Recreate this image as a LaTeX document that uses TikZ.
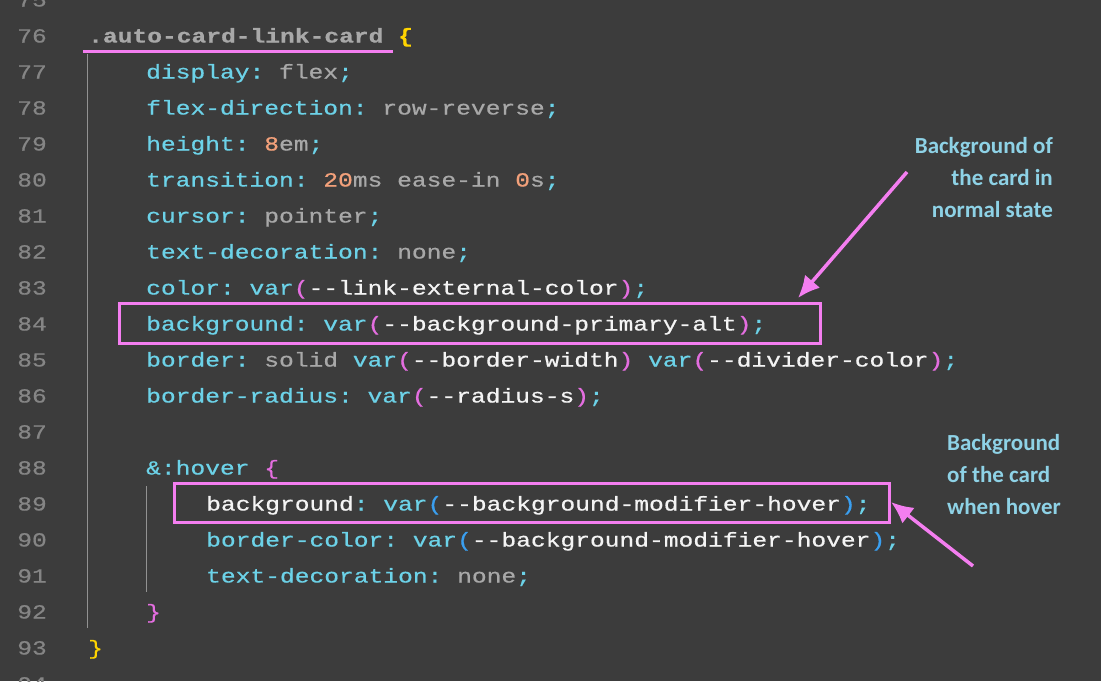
\documentclass[tikz,border=0pt]{standalone}
\usepackage{fontspec}
\setmonofont{Liberation Mono}[FakeStretch=1.23,FakeBold=0.6]
\newfontfamily\notefont{Carlito}
\definecolor{bgc}{HTML}{3C3C3C}
\definecolor{lnc}{HTML}{858585}
\definecolor{prc}{HTML}{6CD2E8}
\definecolor{vlc}{HTML}{A8A8A8}
\definecolor{nmc}{HTML}{F2A07A}
\definecolor{wtc}{HTML}{F4F4F4}
\definecolor{mgc}{HTML}{E46EE0}
\definecolor{blc}{HTML}{3A9FF0}
\definecolor{ylc}{HTML}{FFD400}
\definecolor{pkc}{HTML}{F47EF0}
\definecolor{ntc}{HTML}{8ED2E6}
\newcommand{\cP}[1]{\textcolor{prc}{#1}}
\newcommand{\cV}[1]{\textcolor{vlc}{#1}}
\newcommand{\cN}[1]{\textcolor{nmc}{#1}}
\newcommand{\cW}[1]{\textcolor{wtc}{#1}}
\newcommand{\cM}[1]{\textcolor{mgc}{#1}}
\newcommand{\cB}[1]{\textcolor{blc}{#1}}
\newcommand{\cY}[1]{\textcolor{ylc}{#1}}
\tikzset{
 code/.style={anchor=base west,inner sep=0pt,font=\ttfamily\fontsize{20}{20}\selectfont},
 lnum/.style={anchor=base east,inner sep=0pt,text=lnc,font=\ttfamily\fontsize{20}{20}\selectfont},
 note/.style={inner sep=0pt,text=ntc,font=\notefont\bfseries\fontsize{23}{32}\selectfont},
 hl/.style={draw=pkc,line width=3pt},
 guide/.style={draw=vlc!80!bgc,line width=1pt},
 arr/.style={draw=pkc,line width=3.5pt,-{Latex[length=22pt,width=20pt]}}
}
\usetikzlibrary{arrows.meta}
\begin{document}
\begin{tikzpicture}[x=1pt,y=-1pt]
\fill[bgc] (0,0) rectangle (1101,681);
\useasboundingbox (0,0) rectangle (1101,681);
% line numbers
\foreach \n [evaluate=\n as \yy using {42.5+36*(\n-76)}] in {75,...,94}
  \node[lnum] (ln\n) at (47,\yy) {\n};
\draw[guide] (87,54) -- (87,628);
\draw[guide] (146,486) -- (146,592);
\node[code] (l76) at (88,42.5) {\bfseries\cV{.auto-card-link-card} \cY{\{}};
\node[code] (l77) at (146,78.5) {\cP{display:} \cV{flex}\cP{;}};
\node[code] (l78) at (146,114.5) {\cP{flex-direction:} \cV{row-reverse}\cP{;}};
\node[code] (l79) at (146,150.5) {\cP{height:} \cN{8}\cV{em}\cP{;}};
\node[code] (l80) at (146,186.5) {\cP{transition:} \cN{20}\cV{ms ease-in} \cN{0}\cV{s}\cP{;}};
\node[code] (l81) at (146,222.5) {\cP{cursor:} \cV{pointer}\cP{;}};
\node[code] (l82) at (146,258.5) {\cP{text-decoration:} \cV{none}\cP{;}};
\node[code] (l83) at (146,294.5) {\cP{color: var}\cM{(}\cW{--link-external-color}\cM{)}\cP{;}};
\node[code] (l84) at (146,330.5) {\cP{background: var}\cM{(}\cW{--background-primary-alt}\cM{)}\cP{;}};
\node[code] (l85) at (146,366.5) {\cP{border:} \cV{solid} \cP{var}\cM{(}\cW{--border-width}\cM{)} \cP{var}\cM{(}\cW{--divider-color}\cM{)}\cP{;}};
\node[code] (l86) at (146,402.5) {\cP{border-radius: var}\cM{(}\cW{--radius-s}\cM{)}\cP{;}};
\node[code] (l88) at (146,474.5) {\cP{\&:hover} \cM{\{}};
\node[code] (l89) at (206,510.5) {\cW{background}\cP{: var}\cB{(}\cW{--background-modifier-hover}\cB{)}\cP{;}};
\node[code] (l90) at (206,546.5) {\cP{border-color: var}\cB{(}\cW{--background-modifier-hover}\cB{)}\cP{;}};
\node[code] (l91) at (206,582.5) {\cP{text-decoration:} \cV{none}\cP{;}};
\node[code] (l92) at (146,618.5) {\cM{\}}};
\node[code] (l93) at (88,654.5) {\cY{\}}};
% highlights
\draw[pkc,line width=3pt] (83,51) -- (393,51);
\draw[hl] (119,303) rectangle (820,343);
\draw[hl] (174,483) rectangle (889,522);
\coordinate (b1) at (798,298);
\coordinate (b2) at (891,502);
\node[note,align=right,anchor=north east] (n1) at (1053,137) {Background of\\the card in\\normal state};
\node[note,align=left,anchor=north west] (n2) at (947,434) {Background\\of the card\\when hover};
\coordinate (a1) at (907,172);
\coordinate (a2) at (973,566);
\draw[arr] (a1) -- (b1);
\draw[arr] (a2) -- (b2);
\end{tikzpicture}
\end{document}
